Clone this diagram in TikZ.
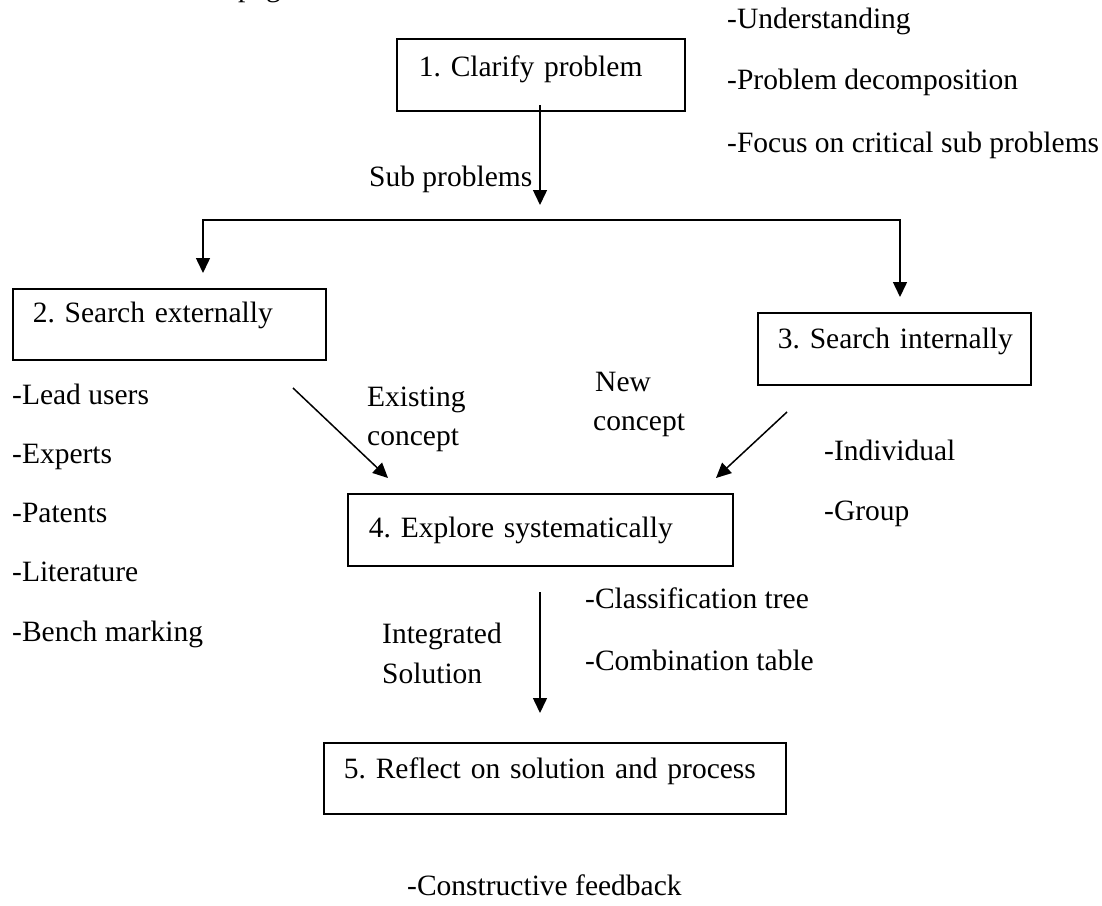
\documentclass[tikz,border=0pt]{standalone}
\usepackage{fontspec}
\setmainfont{Liberation Serif}
\usetikzlibrary{arrows.meta}
\tikzset{
  box/.style={draw, line width=1.6pt, anchor=north west, inner ysep=0pt, align=left},
  txt/.style={anchor=base west, inner sep=0pt},
  arr/.style={line width=1.5pt, -{Triangle[width=14pt,length=15pt]}},
  arr2/.style={line width=1.5pt, {Triangle[width=14pt,length=15pt]}-{Triangle[width=14pt,length=15pt]}},
}
\begin{document}
\begin{tikzpicture}[x=1pt,y=-1pt,font=\fontsize{29.5}{35}\selectfont\frenchspacing]
\useasboundingbox (0,0) rectangle (1102,905);
% partially visible header text
\node[txt] (hdr) at (238,-4) {page};
% boxes
\node[box, inner xsep=22pt, text width=244pt, text height=38pt, text depth=34pt] (b1) at (396,38) {\mbox{1. Clarify problem}};
\node[box, inner xsep=20pt, text width=273pt, text height=34pt, text depth=37pt] (b2) at (12,288) {\mbox{2. Search externally}};
\node[box, inner xsep=20pt, text width=233pt, text height=36pt, text depth=36pt] (b3) at (757,312) {\mbox{3. Search internally}};
\node[box, inner xsep=21pt, text width=343pt, text height=44pt, text depth=28pt] (b4) at (347,493) {\mbox{4. Explore systematically}};
\node[box, inner xsep=20pt, text width=422pt, text height=36pt, text depth=35pt] (b5) at (323,742) {\mbox{5. Reflect on solution and process}};
% side lists
\node[txt] (u1) at (727,28) {-Understanding};
\node[txt] (u2) at (727,89) {-Problem decomposition};
\node[txt] (u3) at (727,152) {-Focus on critical sub problems};
\node[txt] (sp) at (369,186) {Sub problems};
\node[txt] (l1) at (12,404) {-Lead users};
\node[txt] (l2) at (12,463) {-Experts};
\node[txt] (l3) at (12,522) {-Patents};
\node[txt] (l4) at (12,581) {-Literature};
\node[txt] (l5) at (12,641) {-Bench marking};
\node[txt] (ex1) at (367,406) {Existing};
\node[txt] (ex2) at (367,445) {concept};
\node[txt] (nw1) at (595,391) {New};
\node[txt] (nw2) at (593,430) {concept};
\node[txt] (r1) at (824,460) {-Individual};
\node[txt] (r2) at (824,520) {-Group};
\node[txt] (c1) at (585,608) {-Classification tree};
\node[txt] (c2) at (585,670) {-Combination table};
\node[txt] (is1) at (382,643) {Integrated};
\node[txt] (is2) at (382,683) {Solution};
\node[txt] (fb) at (407,895) {-Constructive feedback};
% connectors
\coordinate (a1s) at (540,105);
\coordinate (a1e) at (540,205);
\draw[arr] (a1s) -- (a1e);
\coordinate (jl) at (203,220);
\coordinate (jr) at (900,220);
\coordinate (t2) at (203,273);
\coordinate (t3) at (900,297);
\draw[arr2] (t2) -- (jl) -- (jr) -- (t3);
\coordinate (es) at (293,388);
\coordinate (ee) at (388,478);
\draw[arr] (es) -- (ee);
\coordinate (ns) at (787,412);
\coordinate (ne) at (716,478);
\draw[arr] (ns) -- (ne);
\coordinate (ds) at (540,592);
\coordinate (de) at (540,713);
\draw[arr] (ds) -- (de);
\end{tikzpicture}
\end{document}
